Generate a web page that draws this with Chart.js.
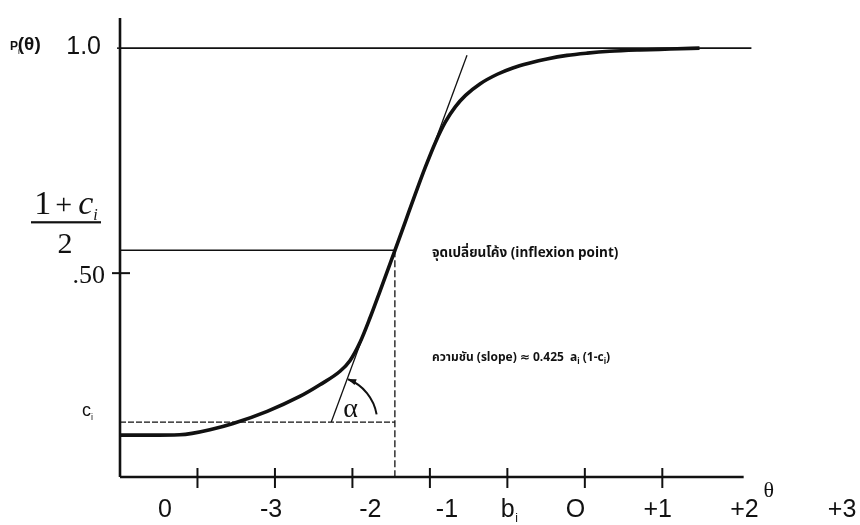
<!DOCTYPE html>
<html><head><meta charset="utf-8">
<script src="https://cdn.jsdelivr.net/npm/chart.js@4.4.0/dist/chart.umd.min.js"></script>
<style>html,body{margin:0;padding:0;background:#fff}#wrap{width:860px;height:525px}</style>
</head><body><div id="wrap"><canvas id="c" width="860" height="525"></canvas></div>
<script>
// ---- data (x in tick-spacing units from the y axis) ----
const curveTheta = [0, 0.39, 0.77, 0.93, 1.16, 1.46, 1.90, 2.32, 2.58, 2.84, 2.97, 3.10, 3.23, 3.36, 3.55, 3.68, 3.81, 3.94, 4.07, 4.20, 4.33, 4.46, 4.65, 4.87, 5.07, 5.29, 5.51, 5.77, 6.03, 6.32, 6.71, 7.10, 7.48];
const curveP     = [0.140, 0.140, 0.141, 0.144, 0.152, 0.166, 0.193, 0.226, 0.252, 0.282, 0.306, 0.347, 0.402, 0.462, 0.551, 0.613, 0.675, 0.735, 0.790, 0.836, 0.870, 0.895, 0.921, 0.942, 0.956, 0.967, 0.976, 0.984, 0.989, 0.993, 0.996, 0.998, 1.000];
const xTickValues = [1, 2, 3, 4, 5, 6, 7];
const xTickLabels = ['0', '-3', '-2', '-1', 'b', 'O', '+1', '+2', '+3'];
const xTickLabelPos = [0.58, 1.95, 3.23, 4.22, 5.03, 5.88, 6.94, 8.06, 9.32];
const yTickLabels = ['1.0', '.50'];
const yTickValues = [1.0, 0.5];
const upperP = 1.0;
const midP = 0.551;      // (1 + c_i) / 2
const guessP = 0.169;    // c_i
const inflexionTheta = 3.548;
const tangentTheta = [2.727, 4.479];
const tangentP = [0.169, 0.984];
const xMin = 0, xMax = 9.5, yMin = 0.047, yMax = 1.067;
const axisEndTheta = 8.05;
const upperLineEnd = 8.15;

const pts = (xs, ys) => xs.map((x, i) => ({x, y: ys[i]}));

function runs(ctx, x, y, parts) {
  let cx = x;
  for (const p of parts) {
    ctx.font = p.f;
    ctx.fillText(p.t, cx, y + (p.dy || 0));
    cx += ctx.measureText(p.t).width + (p.sp || 0);
  }
  return cx;
}
function runsWidth(ctx, parts) {
  let w = 0;
  for (const p of parts) { ctx.font = p.f; w += ctx.measureText(p.t).width + (p.sp || 0); }
  return w;
}

const overlay = {
  id: 'overlay',
  afterDatasetsDraw(chart) {
    const ctx = chart.ctx, xs = chart.scales.x, ys = chart.scales.y;
    const X = v => xs.getPixelForValue(v), Y = v => ys.getPixelForValue(v);
    ctx.save();
    ctx.fillStyle = '#111'; ctx.strokeStyle = '#111';
    // x ticks crossing the axis
    ctx.lineWidth = 2;
    const ax = Y(yMin);
    xTickValues.forEach(v => { ctx.beginPath(); ctx.moveTo(X(v), ax - 9); ctx.lineTo(X(v), ax + 11); ctx.stroke(); });
    // y tick at .50
    ctx.beginPath(); ctx.moveTo(X(0) - 8, Y(0.5)); ctx.lineTo(X(0) + 10, Y(0.5)); ctx.stroke();
    ctx.lineWidth = 1.5;
    ctx.beginPath(); ctx.moveTo(X(0) - 3, Y(upperP)); ctx.lineTo(X(0), Y(upperP)); ctx.stroke();

    // x labels
    ctx.textBaseline = 'alphabetic'; ctx.textAlign = 'center';
    const sans = '25px "Liberation Sans", Arial, sans-serif';
    xTickLabels.forEach((t, i) => {
      const px = X(xTickLabelPos[i]);
      if (t === 'b') {
        ctx.font = sans; ctx.fillText('b', px - 2, ax + 40);
        ctx.font = '12px "Liberation Sans", sans-serif'; ctx.fillText('i', px + 7, ax + 45);
      } else {
        ctx.font = sans;
        ctx.fillText(t, px, ax + 40);
      }
    });
    // theta axis title
    ctx.font = '22px "Liberation Serif", serif';
    ctx.fillText('θ', X(axisEndTheta) + 25, ax + 20);

    // y labels
    ctx.textAlign = 'right';
    ctx.font = '25px "Liberation Sans", Arial, sans-serif';
    ctx.fillText(yTickLabels[0], X(0) - 19, Y(yTickValues[0]) + 6);
    ctx.font = '26px "Liberation Serif", serif';
    ctx.fillText(yTickLabels[1], X(0) - 15, Y(yTickValues[1]) + 10);
    // P_i(θ)
    ctx.textAlign = 'left';
    runs(ctx, 10, Y(upperP) + 2, [
      {t: 'P', f: 'bold 12px "Liberation Sans", sans-serif'},
      {t: 'i', f: '8px "Liberation Sans", sans-serif', dy: 4, sp: -2},
      {t: '(θ)', f: 'bold 19px "Liberation Sans", sans-serif'}
    ]);
    // (1 + c_i) / 2
    const fx = 31, fw = 70, fy = Y(midP) - 29;
    const num = [
      {t: '1', f: '34px "Liberation Serif", serif', sp: 4},
      {t: '+', f: '30px "Liberation Serif", serif', sp: 6},
      {t: 'c', f: 'italic 34px "Liberation Serif", serif'},
      {t: 'i', f: 'italic 16px "Liberation Serif", serif', dy: 6}
    ];
    const nw = runsWidth(ctx, num);
    runs(ctx, fx + (fw - nw) / 2, fy - 7, num);
    ctx.fillRect(fx, fy, fw, 2.2);
    ctx.textAlign = 'center';
    ctx.font = '30px "Liberation Serif", serif';
    ctx.fillText('2', fx + fw / 2 - 1, fy + 32);
    // c_i
    ctx.textAlign = 'left';
    runs(ctx, 82, Y(guessP) - 6, [
      {t: 'c', f: '18px "Liberation Sans", sans-serif'},
      {t: 'i', f: '9px "Liberation Sans", sans-serif', dy: 4}
    ]);

    // angle arc
    const cx0 = X(tangentTheta[0]), cy0 = Y(tangentP[0]);
    const ang = Math.atan2(Y(tangentP[1]) - cy0, X(tangentTheta[1]) - cx0);
    const r = 46, endA = -0.17;
    ctx.lineWidth = 2;
    ctx.beginPath(); ctx.arc(cx0, cy0, r, ang + 0.02, endA, false); ctx.stroke();
    // arrow head at the tangent end
    const hx = cx0 + r * Math.cos(ang), hy = cy0 + r * Math.sin(ang);
    const tdir = ang - Math.PI / 2;
    ctx.beginPath();
    ctx.moveTo(hx, hy);
    ctx.lineTo(hx - 9 * Math.cos(tdir) + 3 * Math.cos(ang), hy - 9 * Math.sin(tdir) + 3 * Math.sin(ang));
    ctx.lineTo(hx - 9 * Math.cos(tdir) - 3 * Math.cos(ang), hy - 9 * Math.sin(tdir) - 3 * Math.sin(ang));
    ctx.closePath(); ctx.fill();
    ctx.font = '28px "Liberation Serif", serif';
    ctx.fillText('α', cx0 + 12, cy0 - 5);

    // annotations
    const th = 'bold 12px "Noto Sans Thai", "Noto Sans", "DejaVu Sans", sans-serif';
    const th13 = 'bold 13.5px "Noto Sans Thai", "Noto Sans", "DejaVu Sans", sans-serif';
    const lx = X(inflexionTheta) + 37;
    runs(ctx, lx, Y(midP) + 7, [{t: 'จุดเปลี่ยนโค้ง (inflexion point)', f: th13}]);
    runs(ctx, lx, Y(midP) + 111, [
      {t: 'ความชัน (slope) ≈ 0.425  a', f: th},
      {t: 'i', f: 'bold 8px "Noto Sans", sans-serif', dy: 3, sp: 3},
      {t: '(1-c', f: th},
      {t: 'i', f: 'bold 8px "Noto Sans", sans-serif', dy: 3},
      {t: ')', f: th}
    ]);
    ctx.restore();
  }
};

const line = (data, w, dash) => ({
  data, showLine: true, borderColor: '#111', backgroundColor: '#111',
  borderWidth: w, borderDash: dash || [], pointRadius: 0, clip: false, tension: 0
});

new Chart(document.getElementById('c'), {
  type: 'scatter',
  data: {
    datasets: [
      line(pts([0, 0], [yMin, yMax]), 2.6),
      line(pts([0, axisEndTheta], [yMin, yMin]), 2.6),
      line(pts([0, upperLineEnd], [upperP, upperP]), 1.6),
      line(pts([0, inflexionTheta], [midP, midP]), 1.6),
      line(pts([0, inflexionTheta], [guessP, guessP]), 1.3, [6, 2]),
      line(pts([inflexionTheta, inflexionTheta], [midP, yMin]), 1.3, [7, 3]),
      line(pts(tangentTheta, tangentP), 1.3),
      Object.assign(line(pts(curveTheta, curveP), 3.6), {cubicInterpolationMode: 'monotone'})
    ]
  },
  options: {
    responsive: false, animation: false,
    layout: {padding: {left: 120, top: 18, right: 4, bottom: 48}},
    plugins: {legend: {display: false}, tooltip: {enabled: false}},
    scales: {
      x: {type: 'linear', min: xMin, max: xMax, display: false},
      y: {type: 'linear', min: yMin, max: yMax, display: false}
    }
  },
  plugins: [overlay]
});
</script></body></html>
